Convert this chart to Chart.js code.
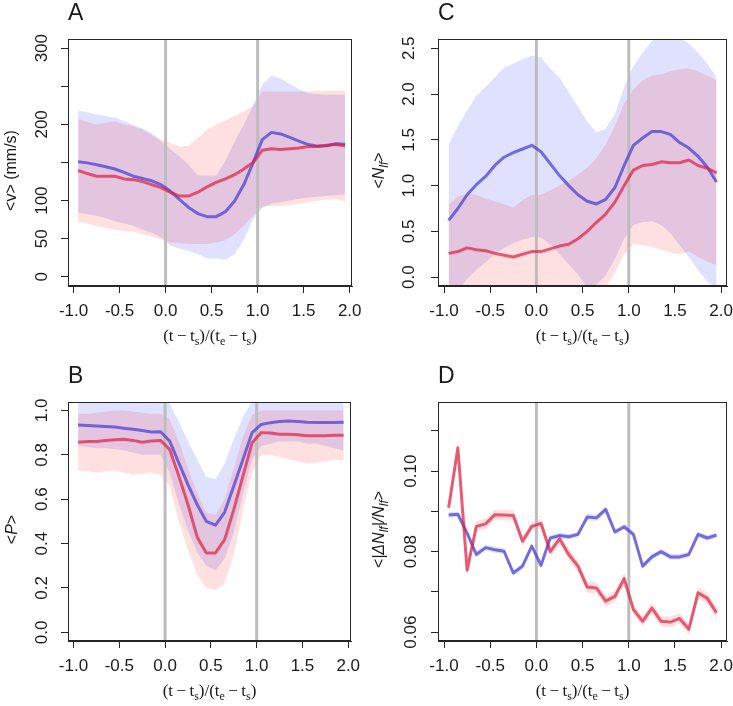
<!DOCTYPE html>
<html><head><meta charset="utf-8">
<script src="https://cdn.jsdelivr.net/npm/chart.js@4.4.1/dist/chart.umd.min.js"></script>
<style>
html,body{margin:0;padding:0;background:#fff;}
#wrap{position:relative;width:733px;height:706px;background:#fff;overflow:hidden;}
canvas{position:absolute;}
</style></head><body>
<div id="wrap">
<canvas id="cA" width="366" height="353" style="left:0;top:0;width:366px;height:353px"></canvas>
<canvas id="cC" width="367" height="353" style="left:366px;top:0;width:367px;height:353px"></canvas>
<canvas id="cB" width="366" height="353" style="left:0;top:353px;width:366px;height:353px"></canvas>
<canvas id="cD" width="367" height="353" style="left:366px;top:353px;width:367px;height:353px"></canvas>
</div>
<script>
// ---------------- data ----------------
const xs = [-0.95,-0.85,-0.75,-0.65,-0.55,-0.45,-0.35,-0.25,-0.15,-0.05,0.05,0.15,0.25,0.35,0.45,0.55,0.65,0.75,0.85,0.95,1.05,1.15,1.25,1.35,1.45,1.55,1.65,1.75,1.85,1.95];
const guideXs = [0, 1];
const aLabelled = [0, 50, 100, 200, 300];

// Panel A: <v> (mm/s)
const aBlue   = [151,149.5,147,144.5,141.5,137,132,129,126,121,112.5,101.5,91,83,79,79,85.5,99.5,121,149.5,180,189.5,187.5,183,178,173.5,171.5,172,174.5,174];
const aRed    = [139.5,135.5,132,132,132,128.5,127.5,125,121,117,111,106,106,111,118,124,128.5,134,141.5,150,166,168,167,168,169,171,171,172.5,173.5,172];
const aBlueHi = [218,216,213,211,209,204,199,195,188,178,168,158,147,133,133,133,152,178,200,225,252,264,260,253,246,241,240,239,239,239];
const aBlueLo = [84,82,80,77,73,70,67,62,58,52,41,37,34,30,24,24,22,30,49,75,91,96,98,100,102,104,105,106,107,108];
const aRedHi  = [207,203,200,202,204,200,198,193,186,180,176,171,172,182,193,200,205,211,217,224,243,243,243,243,243,243,244,244,244,244];
const aRedLo  = [72,70,67,64.5,61.5,60,59,56,53,49,45,44,43,43,43,45,48,56,67,80,92,93,93,94,96,98,100,101,102,99];

// Panel B: <P>
const bBlue   = [0.934,0.932,0.930,0.928,0.925,0.920,0.915,0.910,0.903,0.904,0.862,0.764,0.666,0.576,0.500,0.483,0.541,0.659,0.779,0.900,0.937,0.945,0.950,0.952,0.950,0.947,0.946,0.946,0.946,0.947];
const bRed    = [0.857,0.860,0.860,0.865,0.868,0.870,0.865,0.857,0.862,0.865,0.824,0.704,0.576,0.430,0.358,0.358,0.418,0.553,0.704,0.854,0.900,0.898,0.893,0.893,0.890,0.886,0.886,0.886,0.888,0.888];
const bBlueHi = [1.06,1.06,1.06,1.06,1.06,1.06,1.06,1.06,1.06,1.06,1.03,0.95,0.86,0.78,0.70,0.69,0.76,0.87,0.97,1.04,1.06,1.06,1.06,1.06,1.06,1.06,1.06,1.06,1.06,1.06];
const bBlueLo = [0.84,0.835,0.83,0.83,0.825,0.82,0.81,0.80,0.80,0.80,0.72,0.58,0.46,0.36,0.30,0.28,0.33,0.45,0.62,0.78,0.84,0.85,0.86,0.86,0.86,0.85,0.85,0.84,0.83,0.82];
const bRedHi  = [0.985,0.985,0.99,0.995,1.0,1.0,0.995,0.99,0.985,0.985,0.96,0.86,0.74,0.63,0.54,0.53,0.60,0.74,0.88,0.98,1.0,1.0,1.0,1.0,1.0,1.0,1.0,1.0,1.0,1.0];
const bRedLo  = [0.73,0.725,0.72,0.725,0.73,0.72,0.71,0.715,0.72,0.71,0.66,0.50,0.37,0.26,0.20,0.19,0.22,0.35,0.55,0.72,0.80,0.80,0.79,0.78,0.77,0.76,0.765,0.77,0.775,0.775];

// Panel C: <N_lf>
const cBlue   = [0.62,0.75,0.90,1.01,1.10,1.22,1.31,1.36,1.40,1.44,1.37,1.24,1.11,1.00,0.90,0.83,0.80,0.85,0.98,1.22,1.44,1.52,1.59,1.59,1.56,1.47,1.41,1.32,1.20,1.04];
const cRed    = [0.26,0.28,0.32,0.30,0.29,0.26,0.24,0.22,0.25,0.28,0.28,0.31,0.34,0.36,0.42,0.50,0.60,0.69,0.82,1.00,1.17,1.22,1.23,1.26,1.25,1.25,1.28,1.22,1.19,1.14];
const cBlueHi = [1.45,1.65,1.82,1.98,2.08,2.18,2.29,2.33,2.38,2.42,2.40,2.28,2.18,2.02,1.86,1.70,1.58,1.62,1.78,2.08,2.30,2.45,2.58,2.63,2.63,2.62,2.55,2.45,2.33,2.18];
const cBlueLo = [-0.30,-0.15,-0.02,0.08,0.16,0.25,0.32,0.37,0.41,0.44,0.43,0.36,0.25,0.14,0.03,-0.12,-0.08,0.02,0.20,0.42,0.57,0.60,0.61,0.57,0.48,0.35,0.22,0.08,-0.05,-0.12];
const cRedHi  = [0.79,0.88,0.91,0.90,0.86,0.83,0.80,0.76,0.84,0.90,0.90,0.95,1.00,1.05,1.12,1.20,1.30,1.45,1.65,1.90,2.05,2.15,2.20,2.22,2.25,2.27,2.28,2.25,2.20,2.15];
const cRedLo  = [-0.08,-0.12,-0.20,-0.30,-0.30,-0.30,-0.30,-0.30,-0.30,-0.30,-0.30,-0.30,-0.30,-0.30,-0.30,-0.30,-0.20,-0.12,0.05,0.25,0.36,0.35,0.33,0.30,0.27,0.25,0.28,0.22,0.17,0.13];

// Panel D: <|dN_lf|/N_lf>
const dBlue    = [0.0891,0.0893,0.0846,0.0793,0.0810,0.0805,0.0801,0.0747,0.0764,0.0814,0.0766,0.0834,0.0840,0.0837,0.0843,0.0886,0.0884,0.0905,0.0849,0.0862,0.0843,0.0764,0.0787,0.0800,0.0787,0.0787,0.0793,0.0843,0.0834,0.0841];
const dRed     = [0.0909,0.1058,0.0754,0.0863,0.0869,0.0892,0.0891,0.0890,0.0826,0.0863,0.0870,0.0800,0.0832,0.0793,0.0764,0.0712,0.0710,0.0677,0.0689,0.0733,0.0656,0.0627,0.0660,0.0627,0.0625,0.0634,0.0607,0.0698,0.0684,0.0648];
const dBlueErr = [0.0007,0.0007,0.0007,0.0007,0.0007,0.0007,0.0007,0.0007,0.0007,0.0007,0.0007,0.0007,0.0007,0.0007,0.0007,0.0008,0.0008,0.0008,0.0007,0.0007,0.0007,0.0007,0.0007,0.0007,0.0007,0.0007,0.0007,0.0007,0.0007,0.0007];
const dRedErr  = [0.0013,0.0022,0.0016,0.0013,0.0013,0.0013,0.0013,0.0013,0.0012,0.0012,0.0012,0.0012,0.0013,0.0014,0.0014,0.0014,0.0014,0.0014,0.0014,0.0014,0.0013,0.0013,0.0013,0.0013,0.0013,0.0013,0.0013,0.0014,0.0014,0.0014];

// ---------------- style ----------------
const SANS = '"Liberation Sans", Arial, sans-serif';
const SERIF = '"Liberation Serif", "Times New Roman", serif';
const INK = '#1a1a1a';
const FRAME = '#262626';
const BLUE_LINE = 'rgba(55,45,210,0.66)';
const RED_LINE = 'rgba(222,28,62,0.70)';
const BLUE_BAND = 'rgba(0,0,255,0.12)';
const RED_BAND = 'rgba(255,0,0,0.12)';
const GUIDE = '#bdbdbd';
const TICK_SIZE = 17;

function pts(ys){ return xs.map((x,i)=>({x:x, y:ys[i]})); }
function plus(a,e){ return a.map((v,i)=>v+e[i]); }
function minus(a,e){ return a.map((v,i)=>v-e[i]); }

function fontOf(p, size, family){
  return (p.it ? 'italic ' : '') + (p.sub ? Math.round(size*0.72) : size) + 'px ' + family;
}
function richWidth(ctx, pieces, size, family){
  let w = 0;
  for (const p of pieces){ ctx.font = fontOf(p,size,family); w += ctx.measureText(p.t).width; }
  return w;
}
function drawRich(ctx, pieces, size, family, x, baseline){
  let cx = x;
  ctx.textAlign = 'left'; ctx.textBaseline = 'alphabetic';
  for (const p of pieces){
    ctx.font = fontOf(p,size,family);
    ctx.fillText(p.t, cx, baseline + (p.sub ? size*0.28 : 0));
    cx += ctx.measureText(p.t).width;
  }
}

const X_TITLE = [{t:'(t'},{t:'\u2009\u2212\u2009'},{t:'t'},{t:'s',sub:true},{t:')/(t'},{t:'e',sub:true},{t:'\u2009\u2212\u2009'},{t:'t'},{t:'s',sub:true},{t:')'}];

const decor = {
  id: 'decor',
  beforeDatasetDraw(chart, args, opts){
    if (args.index !== 0) return;
    const {ctx, chartArea:a, scales:{x}} = chart;
    ctx.save();
    ctx.beginPath(); ctx.rect(a.left, a.top, a.right-a.left, a.bottom-a.top); ctx.clip();
    ctx.strokeStyle = GUIDE; ctx.lineWidth = 3;
    for (const g of guideXs){
      const px = x.getPixelForValue(g);
      ctx.beginPath(); ctx.moveTo(px, a.top); ctx.lineTo(px, a.bottom); ctx.stroke();
    }
    ctx.restore();
  },
  afterDraw(chart, args, opts){
    const {ctx, chartArea:a} = chart;
    ctx.save();
    ctx.strokeStyle = FRAME; ctx.lineWidth = 1;
    const L = Math.round(a.left)+0.5, T = Math.round(a.top)+0.5, R = Math.round(a.right)-0.5, B = Math.round(a.bottom)-0.5;
    ctx.strokeRect(L, T, R-L, B-T);
    ctx.fillStyle = INK;
    ctx.font = '23px ' + SANS; ctx.textAlign = 'left'; ctx.textBaseline = 'alphabetic';
    ctx.fillText(opts.letter, a.left, a.top - 19);
    const xw = richWidth(ctx, X_TITLE, 17, SERIF);
    drawRich(ctx, X_TITLE, 17, SERIF, (a.left+a.right)/2 - xw/2, a.bottom + 54.5);
    const yw = richWidth(ctx, opts.yTitle, 16, SANS);
    ctx.translate(opts.yTitleX, (a.top+a.bottom)/2 + 8);
    ctx.rotate(-Math.PI/2);
    drawRich(ctx, opts.yTitle, 16, SANS, -yw/2, 16*0.36);
    ctx.restore();
  }
};

function panel(id, o){
  const hidden = {borderColor:'rgba(0,0,0,0)', borderWidth:0, pointRadius:0, pointHoverRadius:0, tension:0};
  return new Chart(document.getElementById(id), {
    type: 'line',
    data: { datasets: [
      {data: pts(o.blue), borderColor: BLUE_LINE, borderWidth: 3, pointRadius: 0, fill: false, tension: 0, order: 1, borderJoinStyle:'round', borderCapStyle:'butt'},
      {data: pts(o.red),  borderColor: RED_LINE,  borderWidth: 3, pointRadius: 0, fill: false, tension: 0, order: 0, borderJoinStyle:'round', borderCapStyle:'butt'},
      Object.assign({data: pts(o.blueHi), fill: '+1', backgroundColor: BLUE_BAND, order: 3}, hidden),
      Object.assign({data: pts(o.blueLo), fill: false, order: 3}, hidden),
      Object.assign({data: pts(o.redHi), fill: '+1', backgroundColor: RED_BAND, order: 2}, hidden),
      Object.assign({data: pts(o.redLo), fill: false, order: 2}, hidden)
    ]},
    options: {
      responsive: false, animation: false, devicePixelRatio: 1,
      events: [],
      layout: {padding: {left: 0, top: o.padTop, right: o.padRight, bottom: 0}},
      plugins: {legend: {display: false}, tooltip: {enabled: false},
        decor: {letter: o.letter, yTitle: o.yTitle, yTitleX: o.yTitleX}},
      scales: {
        x: {type: 'linear', min: o.xMin, max: o.xMax,
          afterFit: s => { s.height = o.xH; s.paddingLeft = 0; s.paddingRight = 0; },
          ticks: {stepSize: 0.5, includeBounds: false, autoSkip: false, minRotation: 0, maxRotation: 0,
            padding: 8, color: INK, font: {family: SANS, size: TICK_SIZE},
            callback: v => (Math.abs(v) < 1e-9 ? 0 : v).toFixed(1)},
          grid: {drawOnChartArea: false, drawTicks: true, tickLength: 7, tickColor: FRAME, tickWidth: 1},
          border: {display: true, color: FRAME, width: 1}},
        y: {type: 'linear', min: o.yMin, max: o.yMax,
          afterFit: s => { s.width = o.yW; s.paddingTop = 0; s.paddingBottom = 0; },
          ticks: {stepSize: o.yStep, includeBounds: false, autoSkip: false, minRotation: 90, maxRotation: 90,
            crossAlign: 'center', align: 'center', padding: o.yPad, color: INK,
            font: {family: SANS, size: TICK_SIZE}, callback: o.yFmt},
          grid: {drawOnChartArea: false, drawTicks: true, tickLength: 7, tickColor: FRAME, tickWidth: 1},
          border: {display: true, color: FRAME, width: 1}}
      }
    },
    plugins: [decor]
  });
}

panel('cA', {letter: 'A', blue: aBlue, red: aRed, blueHi: aBlueHi, blueLo: aBlueLo, redHi: aRedHi, redLo: aRedLo,
  xMin: -1.06, xMax: 2.025, yMin: -12, yMax: 312, yStep: 50, yW: 68, xH: 67, padTop: 39, padRight: 14, yPad: 5,
  yFmt: v => { const r = Math.round(v); return aLabelled.includes(r) ? String(r) : ''; }, yTitleX: 10,
  yTitle: [{t:'<v> (mm/s)'}]});

panel('cB', {letter: 'B', blue: bBlue, red: bRed, blueHi: bBlueHi, blueLo: bBlueLo, redHi: bRedHi, redLo: bRedLo,
  xMin: -1.06, xMax: 2.03, yMin: -0.039, yMax: 1.038, yStep: 0.2, yW: 68, xH: 65, padTop: 49, padRight: 15, yPad: 7,
  yFmt: v => (Math.abs(v) < 1e-9 ? 0 : v).toFixed(1), yTitleX: 11,
  yTitle: [{t:'<'},{t:'P',it:true},{t:'>'}]});

panel('cC', {letter: 'C', blue: cBlue, red: cRed, blueHi: cBlueHi, blueLo: cBlueLo, redHi: cRedHi, redLo: cRedLo,
  xMin: -1.065, xMax: 2.063, yMin: -0.096, yMax: 2.601, yStep: 0.5, yW: 72, xH: 67, padTop: 39, padRight: 6, yPad: 10,
  yFmt: v => (Math.abs(v) < 1e-9 ? 0 : v).toFixed(1), yTitleX: 12,
  yTitle: [{t:'<'},{t:'N',it:true},{t:'lf',it:true,sub:true},{t:'>'}]});

panel('cD', {letter: 'D', blue: dBlue, red: dRed, blueHi: plus(dBlue,dBlueErr), blueLo: minus(dBlue,dBlueErr), redHi: plus(dRed,dRedErr), redLo: minus(dRed,dRedErr),
  xMin: -1.065, xMax: 2.063, yMin: 0.0578, yMax: 0.1172, yStep: 0.01, yW: 72, xH: 65, padTop: 49, padRight: 6, yPad: 3,
  yFmt: v => { const k = Math.round(v*100); return (k % 2 === 0) ? (k/100).toFixed(2) : ''; }, yTitleX: 12,
  yTitle: [{t:'<|',it:true},{t:'\u0394N',it:true},{t:'lf',it:true,sub:true},{t:'|/',it:true},{t:'N',it:true},{t:'lf',it:true,sub:true},{t:'>'}]});
</script>
</body></html>
